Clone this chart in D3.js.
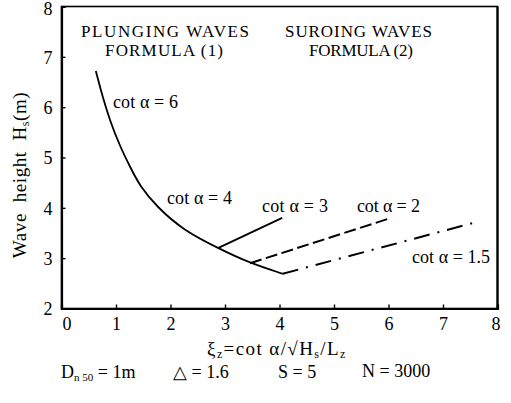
<!DOCTYPE html>
<html><head><meta charset="utf-8">
<script src="https://cdn.jsdelivr.net/npm/d3@7"></script>
</head><body style="margin:0;background:#fff">
<svg id="c" width="511" height="403" style="font-family:'Liberation Serif','Times New Roman'"></svg>
<script>
// ---- data ----
const xTicks = [0,1,2,3,4,5,6,7,8];
const yTicks = [2,3,4,5,6,7,8];
const plungingX = [0.63,0.76,0.89,1.07,1.26,1.44,1.75,2.23,2.87,3.46,4.06];
const plungingY = [6.72,6.18,5.73,5.23,4.81,4.43,4.02,3.56,3.20,2.90,2.69];
const surgingLabels = ["cot α = 3","cot α = 2","cot α = 1.5"];
const surgingStartX = [2.87,3.46,4.06];
const surgingStartY = [3.20,2.90,2.69];
const surgingEndX = [4.05,5.99,7.66];
const surgingEndY = [3.80,3.78,3.73];
const plungingLabels = ["cot α = 6","cot α = 4"];

// ---- chart ----
const FONT = "'Liberation Serif','Times New Roman'";
const svg = d3.select("#c");
const x = d3.scaleLinear().domain([0,8]).range([61.5,497.5]);
const y = d3.scaleLinear().domain([2,8]).range([308.5,6.5]);
function txt(sel){ return sel.append("text").style("font-family",FONT).attr("fill","#000"); }

// frame
svg.append("rect").attr("x",x(0)).attr("y",y(8)).attr("width",x(8)-x(0)).attr("height",y(2)-y(8))
  .attr("fill","none").attr("stroke","#000").attr("stroke-width",1.6);
svg.append("line").attr("x1",x(8)).attr("x2",x(8)).attr("y1",y(8)).attr("y2",y(2)).attr("stroke","#000").attr("stroke-width",2.2);

const gy = svg.append("g").attr("transform",`translate(${x(0)},0)`)
  .call(d3.axisLeft(y).tickValues(yTicks).tickFormat(d3.format("d")).tickSize(-4).tickPadding(9));
const gx = svg.append("g").attr("transform",`translate(0,${y(2)})`)
  .call(d3.axisBottom(x).tickValues(xTicks).tickFormat(d3.format("d")).tickSize(-4).tickPadding(8.5));
[gx,gy].forEach(g=>{
  g.attr("font-family",null).style("font-family",FONT).attr("font-size",18);
  g.select(".domain").attr("stroke","#000").attr("stroke-width",2.2);
  g.selectAll(".tick line").attr("stroke","#000").attr("stroke-width",1.4);
  g.selectAll(".tick text").style("font-family",FONT).attr("font-size",18).attr("fill","#000");
});
gx.selectAll(".tick text").attr("dx",(d)=> d===0?5:(d===8?-2:0));
gy.selectAll(".tick text").attr("dy",(d)=> d===8?"0.42em":"0.36em");

// plunging curve
const pts = plungingX.map((v,i)=>[v,plungingY[i]]);
svg.append("path").datum(pts)
  .attr("d",d3.line().x(d=>x(d[0])).y(d=>y(d[1])).curve(d3.curveBasis))
  .attr("fill","none").attr("stroke","#000").attr("stroke-width",1.8);

// surging lines
const dashes = [null,"12,4.5","16,8,2,8"];
surgingLabels.forEach((lab,i)=>{
  svg.append("line")
    .attr("x1",x(surgingStartX[i])).attr("y1",y(surgingStartY[i]))
    .attr("x2",x(surgingEndX[i])).attr("y2",y(surgingEndY[i]))
    .attr("stroke","#000").attr("stroke-width",i===0?1.8:2)
    .attr("stroke-dasharray",dashes[i]);
});

// curve labels [x, baseline, width]
const labelPos = [[113,108,65],[167,204,65],[262,212,66],[357,212,63],[412,263,78]];
const allLabels = plungingLabels.concat(surgingLabels);
allLabels.forEach((t,i)=>{
  txt(svg).attr("x",labelPos[i][0]).attr("y",labelPos[i][1])
    .attr("font-size",18).attr("textLength",labelPos[i][2]).attr("lengthAdjust","spacing").text(t);
});

// region titles [text, left x, baseline, width]
const titles = [["PLUNGING WAVES",81,37,168],["FORMULA (1)",105,56,118],["SUROING WAVES",285,37,147],["FORMULA (2)",309,56,104]];
titles.forEach(t=>{
  txt(svg).attr("x",t[1]).attr("y",t[2])
    .attr("font-size",17).attr("textLength",t[3]).attr("lengthAdjust","spacing").text(t[0]);
});

// y axis title
const yt = txt(svg).attr("transform","translate(26,175) rotate(-90)")
  .attr("text-anchor","middle").attr("font-size",19).style("letter-spacing","0.6px").style("white-space","pre");
yt.append("tspan").text("Wave  height  H");
yt.append("tspan").attr("font-size",12).attr("dy",3).text("s");
yt.append("tspan").attr("dy",-3).text("(m)");

// x axis title
const xt = txt(svg).attr("x",207).attr("y",355).attr("font-size",19).style("letter-spacing","1.4px");
xt.append("tspan").text("ξ");
xt.append("tspan").attr("font-size",12).attr("dy",3).text("z");
xt.append("tspan").attr("dy",-3).text("=cot α/√H");
xt.append("tspan").attr("font-size",12).attr("dy",3).text("s");
xt.append("tspan").attr("dy",-3).text("/L");
xt.append("tspan").attr("font-size",12).attr("dy",3).text("z");

// parameters line
const p1 = txt(svg).attr("x",61).attr("y",378).attr("font-size",18);
p1.append("tspan").text("D");
p1.append("tspan").attr("font-size",11).attr("dy",3).text("n 50");
p1.append("tspan").attr("dy",-3).text(" = 1m");
txt(svg).attr("x",173).attr("y",378).attr("font-size",18).text("△ = 1.6");
txt(svg).attr("x",278).attr("y",378).attr("font-size",18).text("S = 5");
txt(svg).attr("x",362).attr("y",377).attr("font-size",18).text("N = 3000");
</script>
</body></html>
